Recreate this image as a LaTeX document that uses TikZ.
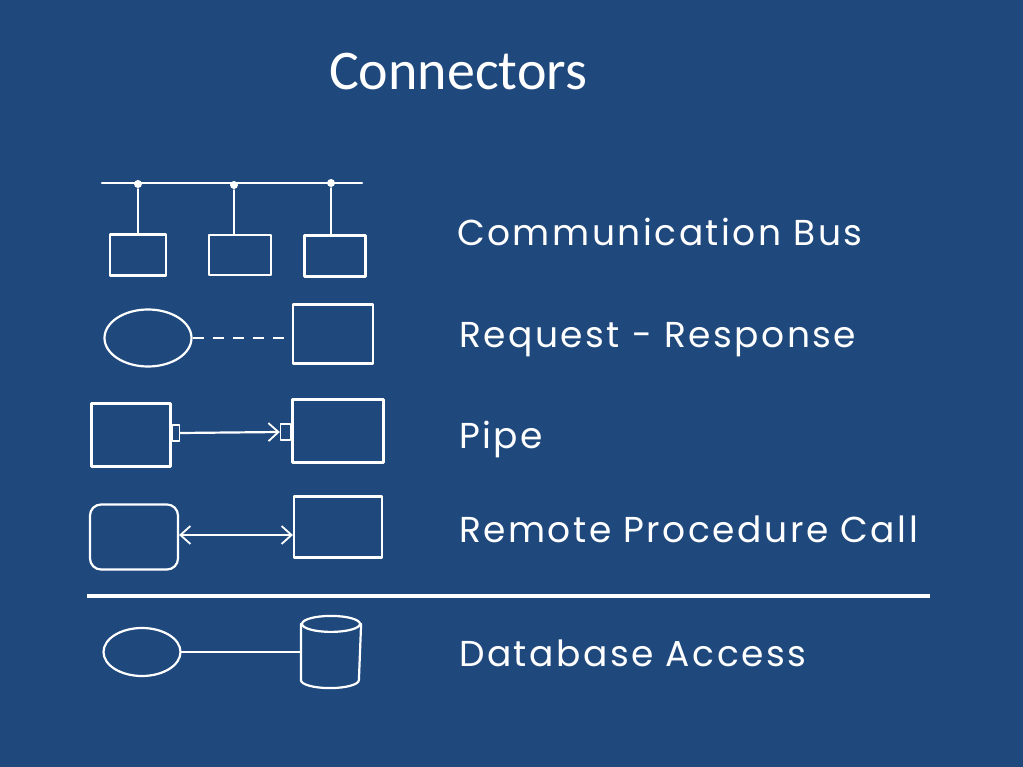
\documentclass[tikz,border=0pt]{standalone}
\usepackage{fontspec}
\setmainfont{Carlito}
\newfontfamily\sketchfont[LetterSpace=7]{Poppins}
\usetikzlibrary{arrows.meta, shapes.geometric, positioning}
\definecolor{color_back}{RGB}{31,73,125}

\begin{document}
\begin{tikzpicture}[x=1pt, y=-1pt,
  line width=2.2pt, draw=white, color=white, line join=round, line cap=round,
  box/.style={draw=white, line width=2.2pt, rectangle, inner sep=0pt},
  oval/.style={draw=white, line width=2.2pt, ellipse, inner sep=0pt},
  port/.style={draw=white, line width=1.6pt, rectangle, inner sep=0pt, minimum width=7pt, minimum height=16pt},
  busdot/.style={circle, fill=white, inner sep=0pt, minimum size=8pt},
  label/.style={anchor=base west, text=white, font=\sketchfont\fontsize{36}{40}\selectfont, inner sep=0pt},
  tip/.style={-{Straight Barb[length=10pt, width=18pt, line width=1.8pt]}},
  bitip/.style={{Straight Barb[length=10pt, width=18pt, line width=1.8pt]}-{Straight Barb[length=10pt, width=18pt, line width=1.8pt]}}]

  % FONDO
  \fill[color_back] (0,0) rectangle (1023,767);
  \node[anchor=base, text=white, font=\fontsize{56}{60}\selectfont] (title) at (458,90) {Connectors};

  %
  % BUS
  \coordinate (busL) at (102,183);
  \coordinate (busR) at (362,183);
  \draw (busL) -- (busR);
  \node[busdot] (d1) at (138,184) {};
  \node[busdot] (d2) at (234,185) {};
  \node[busdot] (d3) at (331,183) {};
  \node[box, minimum width=56pt, minimum height=41pt] (c1) at (138,255) {};
  \node[box, minimum width=62pt, minimum height=40pt] (c2) at (240,255) {};
  \node[box, minimum width=61pt, minimum height=41pt] (c3) at (335,256) {};
  \draw (d1) -- (d1 |- c1.north);
  \draw (d2) -- (d2 |- c2.north);
  \draw (d3) -- (d3 |- c3.north);
  \node[label] (lbus) at (456,246) {Communication Bus};

  %
  % REQUEST - RESPONSE
  \node[oval, minimum width=87pt, minimum height=57pt] (rq) at (148,338) {};
  \node[box, minimum width=80pt, minimum height=59pt] (rs) at (333,334) {};
  \draw[dash pattern=on 11pt off 9pt, line cap=butt] (rq.east) -- (rq.east -| rs.west);
  \node[label] (lreq) at (458,348) {Request - Response};

  %
  % PIPE
  \node[box, minimum width=79pt, minimum height=63pt] (p1) at (131,435) {};
  \node[box, minimum width=91pt, minimum height=63pt] (p2) at (338,431) {};
  \node[port, anchor=west] (pt1) at (p1.east |- 0,433) {};
  \node[port, anchor=east, minimum width=10pt] (pt2) at (p2.west |- 0,432) {};
  \draw[tip] (pt1.east) -- (pt2.west);
  \node[label] (lpipe) at (458,448) {Pipe};

  %
  % REMOTE PROCEDURE CALL
  \node[box, rounded corners=11pt, minimum width=88pt, minimum height=65pt] (r1) at (134,537) {};
  \node[box, minimum width=88pt, minimum height=61pt] (r2) at (338,527) {};
  \draw[bitip] (r1.east |- 0,535) -- (r2.west |- 0,535);
  \node[label] (lrpc) at (458,542) {Remote Procedure Call};

  %
  % SEPARADOR
  \coordinate (sepL) at (87,596);
  \coordinate (sepR) at (930,596);
  \draw[line width=3.5pt, line cap=butt] (sepL) -- (sepR);

  %
  % DATABASE ACCESS
  \node[oval, minimum width=77pt, minimum height=48pt] (db1) at (142,652) {};
  \node[minimum width=58pt, minimum height=70pt, inner sep=0pt] (db2) at (331,652) {};
  \draw ([yshift=-8pt]db2.north) ellipse [x radius=29pt, y radius=8pt];
  \draw ([yshift=-8pt]db2.north west) -- ([yshift=8pt]db2.south west)
    arc[start angle=180, end angle=360, x radius=29pt, y radius=8pt] -- ([yshift=-8pt]db2.north east);
  \draw (db1.east) -- (db1.east -| db2.west);
  \node[label] (ldb) at (458,666) {Database Access};

\end{tikzpicture}
\end{document}
